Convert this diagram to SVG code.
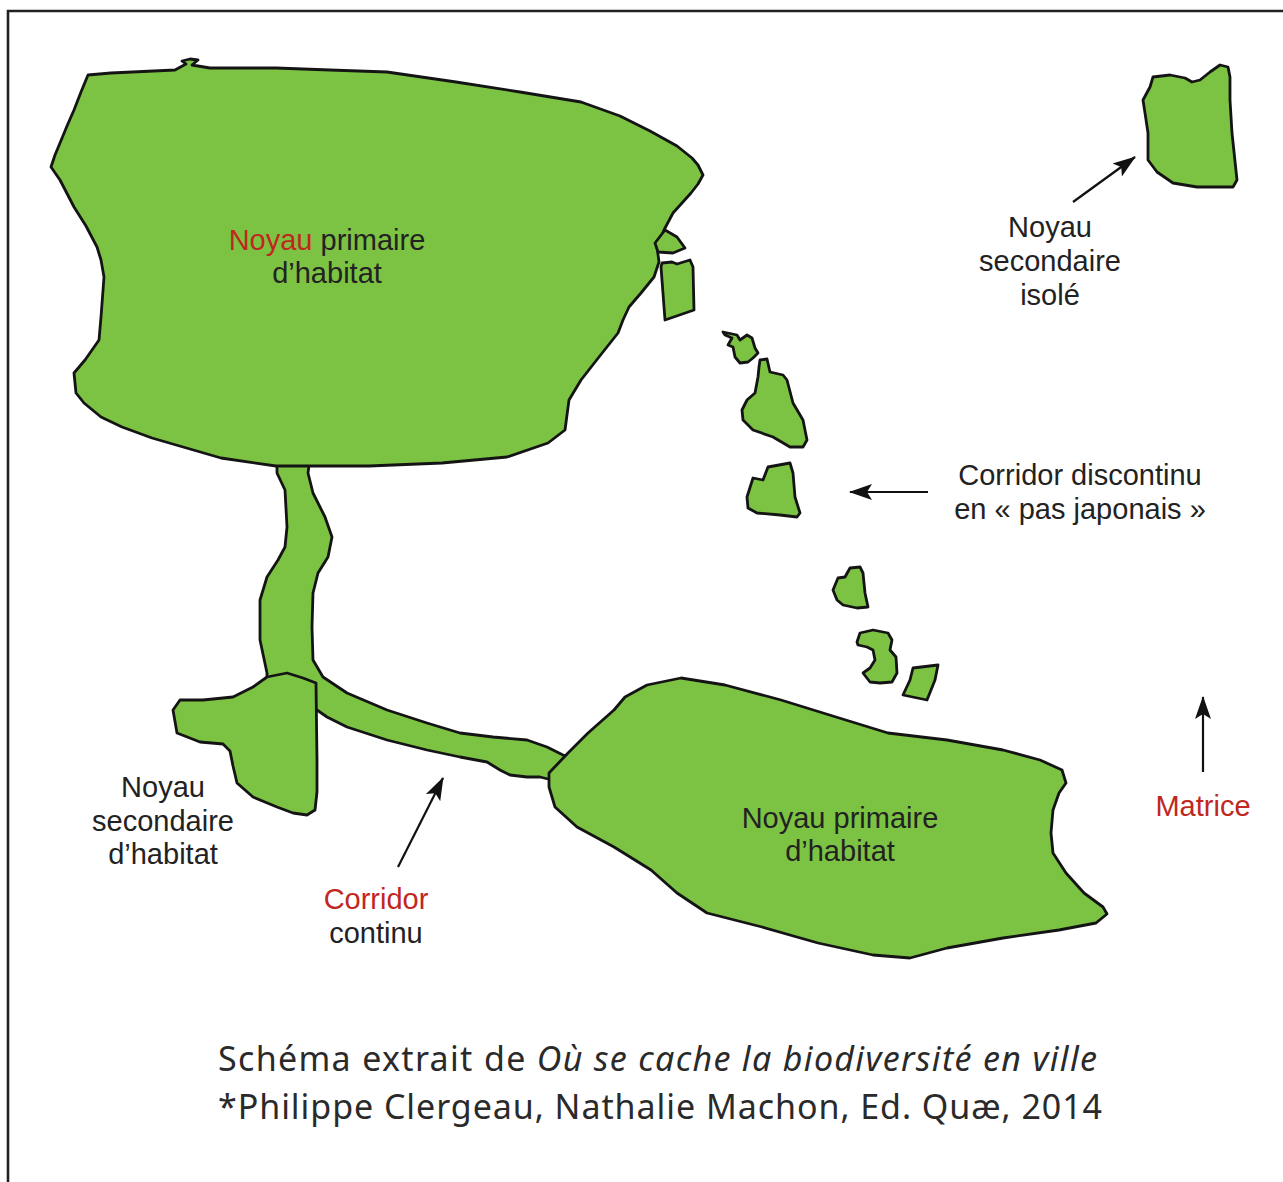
<svg xmlns="http://www.w3.org/2000/svg" width="1283" height="1182" viewBox="0 0 1283 1182">
<style>
.patch{fill:#7dc343;stroke:#141414;stroke-width:2.8;stroke-linejoin:round}
.lbl{font-family:"Liberation Sans",Arial,sans-serif;font-size:29px;fill:#222;text-anchor:middle}
.red{fill:#c0271f}
.cap{font-family:"Noto Sans","Open Sans",sans-serif;font-size:34px;fill:#2a2a2a}
.arr{stroke:#111;stroke-width:2.2;fill:none;marker-end:url(#ah)}
</style>
<defs>
<marker id="ah" viewBox="0 -9 24 18" markerWidth="24" markerHeight="18" refX="22" refY="0" orient="auto" markerUnits="userSpaceOnUse">
<path d="M0,-8 L23,0 L0,8 L5,0 Z" fill="#111"/>
</marker>
</defs>
<rect width="1283" height="1182" fill="#fff"/>
<path d="M8,1182 L8,11 L1283,11" fill="none" stroke="#222" stroke-width="2.6"/>

<g id="corridor-continu">
<polygon class="patch" points="277,458 310,458 308,473 313,493 325,517 332,537 328,557 318,573 313,593 312,627 313,660 323,677 347,693 387,710 427,723 460,733 493,737 527,740 547,747 563,755 582,761 582,786 552,780 540,777 527,777 510,775 500,770 487,762 460,757 427,750 387,740 347,727 327,717 317,710 300,700 267,690 267,673 260,640 260,600 267,577 278,560 285,547 287,527 285,490 277,473"/>
</g>

<g id="noyau-primaire-1">
<polygon class="patch" points="88,75 111,73 175,70 186,64 182,61 190,59 198,60 192,65 210,68 276,68 330,70 387,72 456,82 520,92 581,102 620,116 650,131 677,146 692,158 698,165 703,175 698,184 691,193 673,213 664,230 657,247 659,262 654,277 641,293 629,307 623,320 618,333 599,357 581,380 569,400 565,430 548,443 507,457 442,463 369,466 304,466 276,466 221,458 152,438 122,427 101,417 84,403 76,393 74,373 85,360 99,340 101,317 104,277 101,260 97,247 86,226 74,207 60,180 51,167 55,155 60,143 67,126 74,110 81,92"/>
<text class="lbl" x="327" y="250"><tspan class="red">Noyau</tspan> primaire</text>
<text class="lbl" x="327" y="283">d’habitat</text>
</g>

<g id="noyau-secondaire-habitat">
<polygon class="patch" points="267,677 287,673 303,678 316,683 317,760 317,792 315,810 307,815 293,813 277,807 253,797 237,783 233,766 230,751 223,744 200,742 177,733 173,710 180,700 203,700 233,697 253,687"/>
<text class="lbl" x="163" y="797">Noyau</text>
<text class="lbl" x="163" y="831">secondaire</text>
<text class="lbl" x="163" y="864">d’habitat</text>
</g>

<g id="noyau-primaire-2">
<polygon class="patch" points="568,753 588,733 614,710 625,697 647,685 681,678 725,685 781,700 836,717 888,733 947,740 1003,750 1040,760 1062,770 1066,783 1059,793 1053,810 1051,833 1053,853 1066,873 1084,893 1103,907 1107,914 1096,923 1059,930 1003,938 947,948 910,958 873,955 818,943 762,927 707,913 677,893 651,870 614,847 577,827 555,807 549,787 549,773"/>
<text class="lbl" x="840" y="828">Noyau primaire</text>
<text class="lbl" x="840" y="861">d’habitat</text>
</g>

<g id="corridor-discontinu">
<polygon class="patch" points="665,230 677,237 685,248 673,253 658,252 655,243"/>
<polygon class="patch" points="662,263 672,262 677,264 690,260 693,267 694,310 665,320 661,267"/>
<polygon class="patch" points="723,332 737,335 740,340 747,335 752,338 755,348 758,353 753,358 748,362 740,363 735,357 733,347 728,345 732,338 725,335"/>
<polygon class="patch" points="760,360 767,359 770,372 783,375 787,380 793,403 803,420 807,440 803,447 790,447 773,437 753,430 743,420 742,410 747,400 755,393 758,377 759,367"/>
<polygon class="patch" points="753,478 763,480 768,467 790,463 793,473 795,497 800,513 797,517 780,515 757,513 748,508 747,497"/>
<polygon class="patch" points="838,578 845,577 850,568 860,567 863,573 865,593 868,607 857,608 843,605 837,600 833,590"/>
<polygon class="patch" points="860,633 873,630 888,633 892,640 890,650 896,657 897,673 892,682 880,683 870,682 863,673 870,668 875,660 873,650 867,647 858,645 857,642"/>
<polygon class="patch" points="913,668 938,665 935,680 927,700 903,695 910,680"/>
<text class="lbl" x="1080" y="485">Corridor discontinu</text>
<text class="lbl" x="1080" y="519">en « pas japonais »</text>
</g>

<g id="noyau-secondaire-isole">
<polygon class="patch" points="1153,77 1170,75 1185,78 1192,82 1200,80 1210,72 1220,65 1228,67 1230,77 1230,100 1232,133 1237,180 1233,187 1197,187 1173,183 1157,172 1148,160 1148,133 1145,113 1143,100 1150,87"/>
<text class="lbl" x="1050" y="237">Noyau</text>
<text class="lbl" x="1050" y="271">secondaire</text>
<text class="lbl" x="1050" y="305">isolé</text>
</g>

<g id="matrice">
<text class="lbl red" x="1203" y="816">Matrice</text>
</g>

<g id="corridor-continu-label">
<text class="lbl red" x="376" y="909">Corridor</text>
<text class="lbl" x="376" y="943">continu</text>
</g>

<g id="connectors">
<line class="arr" x1="1073" y1="202" x2="1135" y2="157"/>
<line class="arr" x1="928" y1="492" x2="850" y2="492"/>
<line class="arr" x1="1203" y1="772" x2="1203" y2="697"/>
<line class="arr" x1="398" y1="867" x2="443" y2="778"/>
</g>

<g id="caption">
<text class="cap" x="218" y="1071" textLength="879">Schéma extrait de <tspan font-style="italic">Où se cache la biodiversité en ville</tspan></text>
<text class="cap" x="218" y="1119" textLength="884">*Philippe Clergeau, Nathalie Machon, Ed. Quæ, 2014</text>
</g>
</svg>
